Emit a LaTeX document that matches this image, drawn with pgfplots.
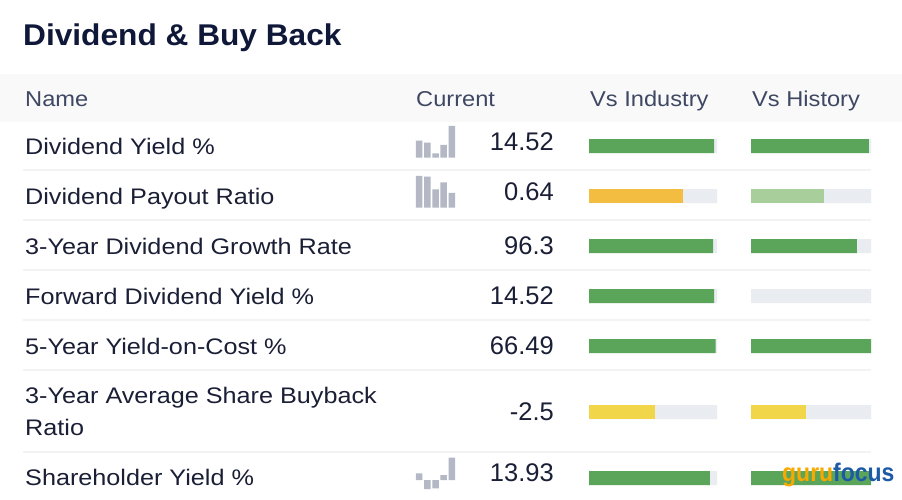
\documentclass[border=0pt]{standalone}
\usepackage{pgfplots}
\pgfplotsset{compat=1.18}
\usepackage{fontspec}
\setmainfont[FakeStretch=1.1]{Liberation Sans}
\newfontfamily\namefont[FakeStretch=1.12]{Liberation Sans}
\newfontfamily\titlefont[FakeStretch=1.055]{Liberation Sans}
\newfontfamily\valfont{Liberation Sans}
\newfontfamily\logofont[FakeStretch=0.9]{Liberation Sans}
\definecolor{gbar}{RGB}{91,165,91}
\definecolor{obar}{RGB}{242,189,65}
\definecolor{lgbar}{RGB}{168,206,155}
\definecolor{ybar}{RGB}{241,214,74}
\definecolor{track}{RGB}{233,236,241}
\definecolor{spark}{RGB}{180,184,196}
\definecolor{hdr}{RGB}{249,249,250}
\definecolor{sepc}{RGB}{243,243,245}
\definecolor{titlec}{RGB}{15,24,56}
\definecolor{namec}{RGB}{26,31,54}
\definecolor{hdrtext}{RGB}{63,72,99}
\definecolor{guruo}{RGB}{247,169,0}
\definecolor{gurub}{RGB}{28,90,166}
\begin{document}
\begin{tikzpicture}[x=1pt,y=1pt]
\pgfplotsset{every axis/.append style={scale only axis, hide axis, clip=false, anchor=north west}}
% ---------- main layout axis (pixel coordinates) ----------
\begin{axis}[at={(0pt,0pt)}, width=902pt, height=500pt,
  xmin=0, xmax=902, ymin=0, ymax=500, y dir=reverse]
\addplot[fill=white, draw=none] coordinates {(0,0)(902,0)(902,500)(0,500)(0,0)};
\addplot[fill=hdr, draw=none] coordinates {(0,74)(902,74)(902,122)(0,122)(0,74)};
\addplot[sepc, line width=1.5pt] coordinates {(23,170)(871,170)};
\addplot[sepc, line width=1.5pt] coordinates {(23,220)(871,220)};
\addplot[sepc, line width=1.5pt] coordinates {(23,270)(871,270)};
\addplot[sepc, line width=1.5pt] coordinates {(23,320)(871,320)};
\addplot[sepc, line width=1.5pt] coordinates {(23,370)(871,370)};
\addplot[sepc, line width=1.5pt] coordinates {(23,452)(871,452)};
% title
\node[anchor=base west, inner sep=0, text=titlec, font=\titlefont\bfseries\fontsize{30}{36}\selectfont] at (axis cs:23,45) {Dividend \& Buy Back};
% header
\tikzset{hd/.style={anchor=base west, inner sep=0, text=hdrtext, font=\fontsize{21.5}{26}\selectfont}}
\node[hd] at (axis cs:25,106.5) {Name};
\node[hd] at (axis cs:416,106.5) {Current};
\node[hd] at (axis cs:590,106.5) {Vs Industry};
\node[hd] at (axis cs:752,106.5) {Vs History};
% names
\tikzset{nm/.style={anchor=base west, inner sep=0, text=namec, font=\namefont\fontsize{22.5}{27}\selectfont}}
\node[nm] at (axis cs:25,154) {Dividend Yield \%};
\node[nm] at (axis cs:25,204) {Dividend Payout Ratio};
\node[nm] at (axis cs:25,254) {3-Year Dividend Growth Rate};
\node[nm] at (axis cs:25,304) {Forward Dividend Yield \%};
\node[nm] at (axis cs:25,354) {5-Year Yield-on-Cost \%};
\node[nm] at (axis cs:25,403.5) {3-Year Average Share Buyback};
\node[nm] at (axis cs:25,435) {Ratio};
\node[nm] at (axis cs:25,485.7) {Shareholder Yield \%};
% values
\tikzset{vl/.style={anchor=base east, inner sep=0, text=namec, font=\valfont\fontsize{25.5}{30}\selectfont}}
\node[vl] at (axis cs:554,150.7) {14.52};
\node[vl] at (axis cs:554,200.7) {0.64};
\node[vl] at (axis cs:554,254) {96.3};
\node[vl] at (axis cs:554,304) {14.52};
\node[vl] at (axis cs:554,354) {66.49};
\node[vl] at (axis cs:554,420.7) {-2.5};
\node[vl] at (axis cs:554,481.7) {13.93};
\end{axis}
% ---------- Vs Industry ----------
\begin{axis}[at={(589pt,0pt)}, width=128pt, height=500pt,
  xmin=0, xmax=1, ymin=0, ymax=500, y dir=reverse]
\addplot[xbar, bar width=14pt, bar shift=0pt, fill=track, draw=none] coordinates {(1,146)(1,196)(1,246)(1,296)(1,346)(1,412)(1,478)};
\addplot[xbar, bar width=14pt, bar shift=0pt, fill=gbar, draw=none] coordinates {(0.977,146)(0.969,246)(0.977,296)(0.99,346)(0.945,478)};
\addplot[xbar, bar width=14pt, bar shift=0pt, fill=obar, draw=none] coordinates {(0.734,196)};
\addplot[xbar, bar width=14pt, bar shift=0pt, fill=ybar, draw=none] coordinates {(0.516,412)};
\end{axis}
% ---------- Vs History ----------
\begin{axis}[at={(751pt,0pt)}, width=120pt, height=500pt,
  xmin=0, xmax=1, ymin=0, ymax=500, y dir=reverse]
\addplot[xbar, bar width=14pt, bar shift=0pt, fill=track, draw=none] coordinates {(1,146)(1,196)(1,246)(1,296)(1,346)(1,412)(1,478)};
\addplot[xbar, bar width=14pt, bar shift=0pt, fill=gbar, draw=none] coordinates {(0.983,146)(0.883,246)(1.0,346)(1.0,478)};
\addplot[xbar, bar width=14pt, bar shift=0pt, fill=lgbar, draw=none] coordinates {(0.608,196)};
\addplot[xbar, bar width=14pt, bar shift=0pt, fill=ybar, draw=none] coordinates {(0.458,412)};
\end{axis}
% ---------- sparklines ----------
\begin{axis}[anchor=south west, at={(415pt,-157.7pt)}, width=41pt, height=31.7pt,
  xmin=0.5, xmax=5.5, ymin=0, ymax=31.7]
\addplot[ybar, bar width=6.5pt, bar shift=0pt, fill=spark, draw=none] coordinates {(1,17)(2,15)(3,4.4)(4,12.7)(5,31.7)};
\end{axis}
\begin{axis}[anchor=south west, at={(415pt,-207.7pt)}, width=41pt, height=31.7pt,
  xmin=0.5, xmax=5.5, ymin=0, ymax=31.7]
\addplot[ybar, bar width=6.5pt, bar shift=0pt, fill=spark, draw=none] coordinates {(1,31.7)(2,31)(3,18.4)(4,25.4)(5,14.7)};
\end{axis}
\begin{axis}[anchor=south west, at={(415pt,-489pt)}, width=41pt, height=31.3pt,
  xmin=0.5, xmax=5.5, ymin=-9, ymax=22.3]
\addplot[ybar, bar width=6.5pt, bar shift=0pt, fill=spark, draw=none] coordinates {(1,6.7)(2,-9)(3,-8.3)(4,5)(5,22.3)};
\end{axis}
% ---------- watermark overlay ----------
\begin{axis}[at={(0pt,0pt)}, width=902pt, height=500pt,
  xmin=0, xmax=902, ymin=0, ymax=500, y dir=reverse]
\node[anchor=base west, inner sep=0, font=\logofont\bfseries\fontsize{25.5}{30}\selectfont] at (axis cs:782,481) {\textcolor{guruo}{guru}\textcolor{gurub}{focus}};
\end{axis}
\end{tikzpicture}
\end{document}
